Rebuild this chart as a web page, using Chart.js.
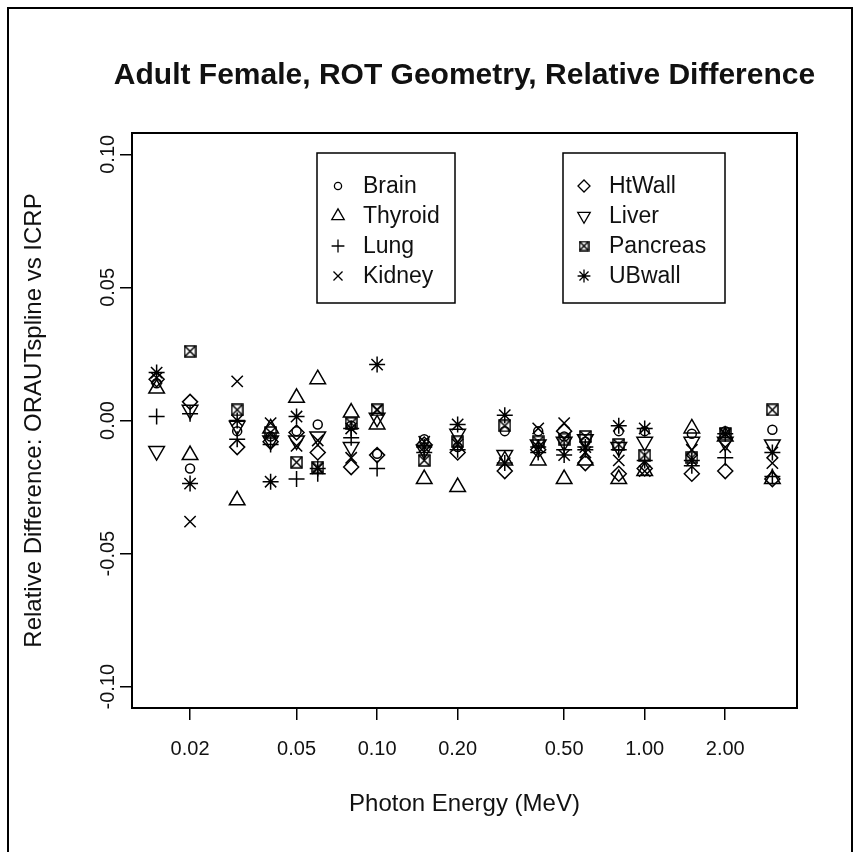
<!DOCTYPE html>
<html>
<head>
<meta charset="utf-8">
<title>Adult Female, ROT Geometry, Relative Difference</title>
<script src="https://cdn.jsdelivr.net/npm/chart.js@4.4.1/dist/chart.umd.min.js"></script>
<style>
  html, body { margin: 0; padding: 0; background: #fff; }
  canvas { display: block; }
</style>
</head>
<body>
<canvas id="relDiff" width="856" height="852"></canvas>
<script>
// photon energies (MeV)
var energy = [0.015, 0.02, 0.03, 0.04, 0.05, 0.06, 0.08, 0.1, 0.15, 0.2, 0.3, 0.4, 0.5, 0.6, 0.8, 1.0, 1.5, 2.0, 3.0];

// relative difference ORAUTspline vs ICRP, one list per organ
var brain    = [0.014, -0.018, -0.004, -0.006, -0.004, -0.0015, -0.002, -0.0125, -0.007, -0.010, -0.004, -0.004, -0.006, -0.008, -0.004, -0.004, -0.005, -0.004, -0.0035];
var thyroid  = [0.012, -0.013, -0.030, -0.003, 0.0085, 0.0155, 0.003, -0.0015, -0.022, -0.025, -0.015, -0.015, -0.022, -0.015, -0.022, -0.019, -0.003, -0.006, -0.022];
var lung     = [0.0015, 0.0025, -0.007, -0.009, -0.022, -0.020, -0.0065, -0.018, -0.012, -0.011, -0.016, -0.012, -0.011, -0.011, -0.011, -0.015, -0.017, -0.014, -0.021];
var kidney   = [0.016, -0.038, 0.0147, -0.001, -0.0095, -0.0075, -0.014, 0.004, -0.008, -0.009, -0.016, -0.003, -0.001, -0.012, -0.015, -0.019, -0.011, -0.010, -0.016];
var htwall   = [0.0155, 0.007, -0.010, -0.008, -0.0045, -0.012, -0.0175, -0.013, -0.009, -0.012, -0.019, -0.011, -0.004, -0.016, -0.020, -0.018, -0.020, -0.019, -0.022];
var liver    = [-0.0115, 0.004, -0.002, -0.0075, -0.0075, -0.006, -0.010, 0.001, -0.011, -0.005, -0.013, -0.009, -0.008, -0.007, -0.010, -0.008, -0.008, -0.008, -0.009];
var pancreas = [null, 0.026, 0.004, -0.0045, -0.0157, -0.0175, -0.001, 0.004, -0.015, -0.008, -0.002, -0.008, -0.007, -0.006, -0.009, -0.013, -0.014, -0.005, 0.004];
var ubwall   = [0.018, -0.0237, 0.000, -0.023, 0.0015, -0.018, -0.003, 0.021, -0.010, -0.0015, 0.002, -0.010, -0.013, -0.010, -0.002, -0.003, -0.015, -0.005, -0.012];

var organs = ['Brain', 'Thyroid', 'Lung', 'Kidney', 'HtWall', 'Liver', 'Pancreas', 'UBwall'];
var series = [brain, thyroid, lung, kidney, htwall, liver, pancreas, ubwall];

var xTicks = [0.02, 0.05, 0.1, 0.2, 0.5, 1, 2];
var xTickLabels = ['0.02', '0.05', '0.10', '0.20', '0.50', '1.00', '2.00'];
var yTicks = [-0.1, -0.05, 0, 0.05, 0.1];
var yTickLabels = ['-0.10', '-0.05', '0.00', '0.05', '0.10'];

var mainTitle = 'Adult Female, ROT Geometry, Relative Difference';

// square with a cross in it (R pch 7)
function boxX(size) {
    var c = document.createElement('canvas');
    c.width = size; c.height = size;
    var g = c.getContext('2d');
    g.strokeStyle = '#000';
    g.lineWidth = 1.5;
    var a = 1, b = size - 1;
    g.strokeRect(a, a, b - a, b - a);
    g.beginPath();
    g.moveTo(a, a); g.lineTo(b, b);
    g.moveTo(b, a); g.lineTo(a, b);
    g.stroke();
    return c;
}

// plotting symbols, same order as organs
var symbols = [
    { style: 'circle',   radius: 4.5, rot: 0 },
    { style: 'triangle', radius: 9,   rot: 0 },
    { style: 'cross',    radius: 8,   rot: 0 },
    { style: 'crossRot', radius: 8,   rot: 0 },
    { style: 'rectRot',  radius: 7.5, rot: 0 },
    { style: 'triangle', radius: 9,   rot: 180 },
    { style: boxX(13),   radius: 6,   rot: 0, small: boxX(11) },
    { style: 'star',     radius: 8,   rot: 0 }
];

// R-style axis limits: data range padded by 4%
var lx0 = Math.log10(energy[0]), lx1 = Math.log10(energy[energy.length - 1]);
var xMin = Math.pow(10, lx0 - 0.04 * (lx1 - lx0));
var xMax = Math.pow(10, lx1 + 0.04 * (lx1 - lx0));
var yMin = yTicks[0] - 0.04 * (yTicks[4] - yTicks[0]);
var yMax = yTicks[4] + 0.04 * (yTicks[4] - yTicks[0]);

var datasets = organs.map(function (name, k) {
    var pts = [];
    energy.forEach(function (e, i) {
        if (series[k][i] !== null) pts.push({ x: e, y: series[k][i] });
    });
    return {
        label: name,
        data: pts,
        pointStyle: symbols[k].style,
        pointRadius: symbols[k].radius,
        pointRotation: symbols[k].rot,
        borderColor: '#000',
        backgroundColor: 'rgba(0,0,0,0)',
        borderWidth: 1.5
    };
});

// draws one boxed key, R legend() style
function drawKey(c, first, left, top, w, h) {
    c.strokeStyle = '#000';
    c.lineWidth = 1.5;
    c.strokeRect(left, top, w, h);
    c.font = '23px "Liberation Sans", Arial, sans-serif';
    c.textBaseline = 'middle';
    c.textAlign = 'left';
    for (var i = 0; i < 4; i++) {
        var k = first + i;
        var y = top + 33 + i * 30;
        var s = symbols[k];
        c.fillStyle = 'rgba(0,0,0,0)';
        c.strokeStyle = '#000';
        c.lineWidth = 1.3;
        Chart.helpers.drawPoint(c, {
            pointStyle: s.small || s.style,
            radius: s.radius * 0.8,
            rotation: s.rot,
            borderWidth: 1.3
        }, left + 21, y);
        c.fillStyle = '#111';
        c.fillText(organs[k], left + 46, y + 1);
    }
}

var rFrame = {
    id: 'rFrame',
    beforeDraw: function (chart) {
        var c = chart.ctx;
        c.save();
        c.fillStyle = '#fff';
        c.fillRect(0, 0, chart.width, chart.height);
        c.restore();
    },
    afterDraw: function (chart) {
        var c = chart.ctx, a = chart.chartArea;
        c.save();
        c.strokeStyle = '#000';
        c.lineWidth = 2;
        c.strokeRect(8, 8, 844, 870);
        c.strokeRect(a.left, a.top, a.right - a.left, a.bottom - a.top);
        // main title, centred over the plot region
        c.fillStyle = '#111';
        c.font = 'bold 30px "Liberation Sans", Arial, sans-serif';
        c.textAlign = 'center';
        c.textBaseline = 'middle';
        c.fillText(mainTitle, (a.left + a.right) / 2, 76);
        drawKey(c, 0, 317, 153, 138, 150);
        drawKey(c, 4, 563, 153, 162, 150);
        c.restore();
    }
};

Chart.defaults.font.family = '"Liberation Sans", Arial, sans-serif';
Chart.defaults.color = '#111';

var ctx = document.getElementById('relDiff').getContext('2d');
var relChart = new Chart(ctx, {
    type: 'scatter',
    data: { datasets: datasets },
    options: {
        responsive: false,
        animation: false,
        events: [],
        layout: { padding: { left: 0, top: 133, right: 59, bottom: 0 } },
        plugins: {
            legend: { display: false },
            tooltip: { enabled: false },
            title: { display: false }
        },
        scales: {
            x: {
                type: 'logarithmic',
                min: xMin,
                max: xMax,
                afterBuildTicks: function (s) {
                    s.ticks = xTicks.map(function (v) { return { value: v }; });
                },
                afterFit: function (s) { s.height = 144; },
                ticks: {
                    autoSkip: false,
                    maxRotation: 0,
                    padding: 17,
                    font: { size: 20 },
                    callback: function (v) { return xTickLabels[xTicks.indexOf(v)]; }
                },
                grid: { drawOnChartArea: false, tickLength: 12, color: '#000', lineWidth: 1.5 },
                border: { display: false },
                title: {
                    display: true,
                    text: 'Photon Energy (MeV)',
                    font: { size: 24 },
                    padding: { bottom: 33 }
                }
            },
            y: {
                min: yMin,
                max: yMax,
                afterBuildTicks: function (s) {
                    s.ticks = yTicks.map(function (v) { return { value: v }; });
                },
                afterFit: function (s) { s.width = 132; },
                ticks: {
                    minRotation: 90,
                    maxRotation: 90,
                    crossAlign: 'center',
                    padding: -11,
                    font: { size: 20 },
                    callback: function (v) { return yTickLabels[yTicks.indexOf(v)]; }
                },
                grid: { drawOnChartArea: false, tickLength: 12, color: '#000', lineWidth: 1.5 },
                border: { display: false },
                title: {
                    display: true,
                    text: 'Relative Difference: ORAUTspline vs ICRP',
                    font: { size: 24 },
                    padding: { top: 20 }
                }
            }
        }
    },
    plugins: [rFrame]
});
</script>
</body>
</html>
